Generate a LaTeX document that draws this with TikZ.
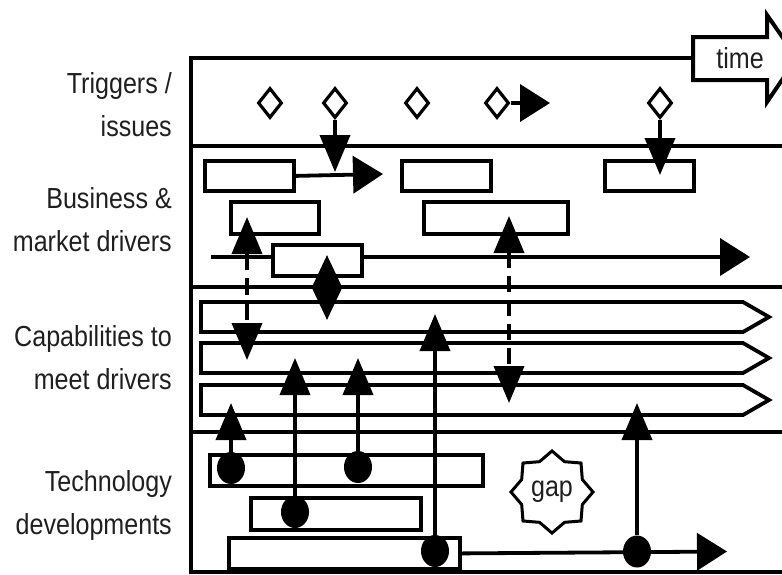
\documentclass[tikz,border=0pt]{standalone}
\usepackage{fontspec}
\setmainfont{Liberation Sans}
\usepackage{graphicx}
\usetikzlibrary{arrows.meta,shapes.geometric}
% slightly condensed lettering
\newcommand{\sqz}[1]{\scalebox{0.865}[1]{#1}}
\begin{document}
\begin{tikzpicture}[x=1pt,y=-1pt,
  ink/.style={line width=3.8pt, black},
  frameline/.style={line width=4pt, black},
  bar/.style={draw, line width=3.8pt, fill=white, inner sep=0pt, anchor=north west},
  trig/.style={diamond, draw, line width=3.2pt, fill=white, inner sep=0pt,
               minimum width=24pt, minimum height=30pt, aspect=0.8},
  dot/.style={ellipse, fill=black, inner sep=0pt, minimum width=28pt, minimum height=32pt},
  vtip/.style={-{Triangle[length=37pt,width=30pt]}},
  htip/.style={-{Triangle[length=30pt,width=37pt]}},
  lbl/.style={font=\fontsize{29}{43}\selectfont, anchor=east, inner sep=0pt, text=black!88},
  word/.style={font=\fontsize{29}{32}\selectfont, inner sep=0pt, text=black!88}
]
\useasboundingbox (0,0) rectangle (782,574);
\clip (0,0) rectangle (782,574);

% row labels
\node[lbl] (l1) at (172,106) {\sqz{\begin{tabular}{@{}r@{}}Triggers /\\issues\end{tabular}}};
\node[lbl] (l2) at (172,221) {\sqz{\begin{tabular}{@{}r@{}}Business \&\\market drivers\end{tabular}}};
\node[lbl] (l3) at (172,359) {\sqz{\begin{tabular}{@{}r@{}}Capabilities to\\meet drivers\end{tabular}}};
\node[lbl] (l4) at (172,504) {\sqz{\begin{tabular}{@{}r@{}}Technology\\developments\end{tabular}}};

% frame and layer separators
\draw[frameline] (693,58) -- (191,58) -- (191,572) -- (782,572);
\foreach \yy in {146,287,432} \draw[frameline] (191,\yy) -- (782,\yy);

% time arrow
\draw[frameline, fill=white, line join=miter]
  (693,37) -- (767,37) -- (767,15) -- (797,58) -- (767,102) -- (767,80) -- (693,80) -- cycle;
\node[word] (time) at (740,58) {\sqz{time}};

% long market-driver timeline (runs behind the boxes)
\coordinate (ms) at (211,257);
\coordinate (me) at (750,257);
\draw[ink,htip] (ms) -- (me);

% business & market driver boxes
\node[bar, minimum width=89pt, minimum height=30pt] (b1) at (203,159) {};
\node[bar, minimum width=89pt, minimum height=30pt] (b2) at (400,159) {};
\node[bar, minimum width=89pt, minimum height=30pt] (b3) at (603,159) {};
\node[bar, minimum width=88pt, minimum height=32pt] (b4) at (229,200) {};
\node[bar, minimum width=144pt, minimum height=32pt] (b5) at (422,200) {};
\node[bar, minimum width=89pt, minimum height=31pt] (b6) at (271,243) {};

% capability bands
\foreach \yt in {302,343,385}{
  \draw[ink, fill=white, line join=miter]
    (201,\yt) -- (743,\yt) -- (769,\yt+15) -- (743,\yt+30) -- (201,\yt+30) -- cycle;
}

% technology boxes
\node[bar, minimum width=273pt, minimum height=31pt] (t1) at (208,453) {};
\node[bar, minimum width=170pt, minimum height=32pt] (t2) at (249,496) {};
\node[bar, minimum width=231pt, minimum height=31pt] (t3) at (227,536) {};

% gap marker
\node[star, star points=8, star point ratio=1.25, draw, line width=3pt,
      minimum size=82pt, inner sep=0pt] (gap) at (552,492) {};
\node[word] (gapword) at (gap.center) {\sqz{gap}};

% triggers
\node[trig] (d1) at (270,103) {};
\node[trig] (d2) at (335,103) {};
\node[trig] (d3) at (417,103) {};
\node[trig] (d4) at (497,103) {};
\node[trig] (d5) at (660,103) {};

\coordinate (d2t) at (335,172);
\coordinate (d4t) at (550,103);
\coordinate (d5t) at (660,175);
\draw[ink,vtip] (d2) -- (d2t);
\draw[ink,htip] (d4) -- (d4t);
\draw[ink,vtip] (d5) -- (d5t);

% business links
\coordinate (b1t) at (383,174);
\draw[ink,htip] (b1.east) -- (b1t);

\coordinate (da1) at (247,217);
\coordinate (da2) at (247,360);
\draw[ink, dash pattern=on 17pt off 8pt,
      {Triangle[length=37pt,width=30pt]}-{Triangle[length=37pt,width=30pt]}] (da1) -- (da2);

\coordinate (db1) at (509,216);
\coordinate (db2) at (509,403);
\draw[ink, dash pattern=on 16pt off 8pt,
      {Triangle[length=37pt,width=30pt]}-{Triangle[length=37pt,width=30pt]}] (db1) -- (db2);

\coordinate (dc1) at (327,255);
\coordinate (dc2) at (327,320);
\draw[ink, {Triangle[length=33pt,width=30pt]}-{Triangle[length=33pt,width=30pt]}] (dc1) -- (dc2);

% technology timeline
\coordinate (te) at (727,551.5);
\draw[ink,htip] (t3.east) -- (te);

% technology to capability links
\node[dot] (k1) at (231,468) {};
\node[dot] (k2) at (358,467) {};
\node[dot] (k3) at (295,512) {};
\node[dot] (k4) at (435,551) {};
\node[dot] (k5) at (637,551.5) {};

\coordinate (c1) at (231,403);
\coordinate (c2) at (358,358);
\coordinate (c3) at (295,358);
\coordinate (c4) at (435,314);
\coordinate (c5) at (637,403);
\draw[ink,vtip] (k1) -- (c1);
\draw[ink,vtip] (k2) -- (c2);
\draw[ink,vtip] (k3) -- (c3);
\draw[ink,vtip] (k4) -- (c4);
\draw[ink,vtip] (k5) -- (c5);
\end{tikzpicture}
\end{document}
